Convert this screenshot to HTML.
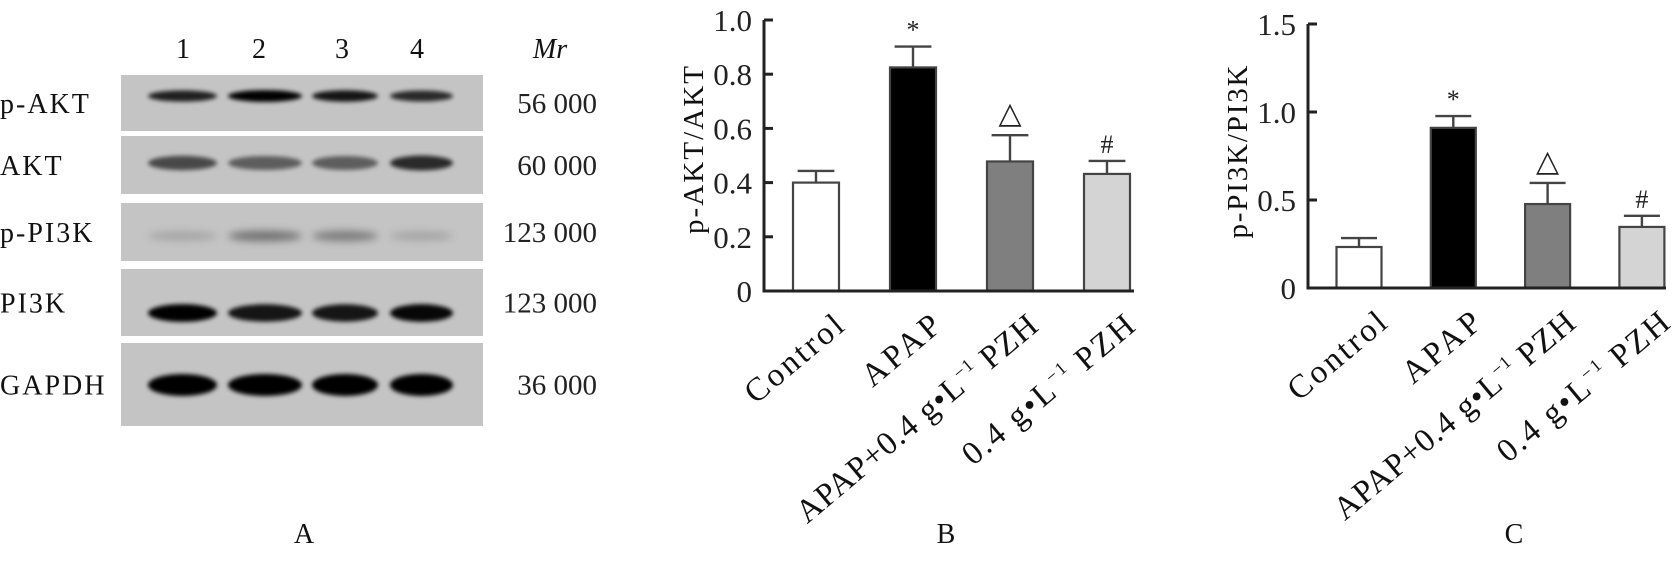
<!DOCTYPE html>
<html><head><meta charset="utf-8">
<style>
html,body{margin:0;padding:0;background:#fff;}
svg{display:block;font-family:"Liberation Serif",serif;}
</style></head>
<body>
<svg id="fig" width="1680" height="573" viewBox="0 0 1680 573" xmlns="http://www.w3.org/2000/svg">
<defs>
<filter id="blur2" x="-20%" y="-100%" width="140%" height="300%"><feGaussianBlur stdDeviation="2.2"/></filter>
<filter id="blur4" x="-20%" y="-100%" width="140%" height="300%"><feGaussianBlur stdDeviation="4"/></filter>
</defs>
<g id="panelA"></g>
<g id="panelB"></g>
<g id="panelC"></g>
</svg>
<script>
// ---- data ----
const categories = ["Control", "APAP", "APAP+0.4 g\u2022L", "0.4 g\u2022L"];
const categorySuffix = ["", "", true, true];
const aktValues = [0.40, 0.825, 0.478, 0.432];
const aktErrors = [0.043, 0.077, 0.097, 0.048];
const aktTicks = [0, 0.2, 0.4, 0.6, 0.8, 1.0];
const aktTickLabels = ["0", "0.2", "0.4", "0.6", "0.8", "1.0"];
const aktMarks = ["", "*", "\u25B3", "#"];
const pi3kValues = [0.233, 0.91, 0.477, 0.347];
const pi3kErrors = [0.051, 0.067, 0.12, 0.063];
const pi3kTicks = [0, 0.5, 1.0, 1.5];
const pi3kTickLabels = ["0", "0.5", "1.0", "1.5"];
const pi3kMarks = ["", "*", "\u25B3", "#"];
const blotRows = ["p-AKT", "AKT", "p-PI3K", "PI3K", "GAPDH"];
const blotMr = ["56 000", "60 000", "123 000", "123 000", "36 000"];
const laneLabels = ["1", "2", "3", "4"];
// band intensities (0..1) per row per lane
const bandIntensity = [
  [0.8, 0.95, 0.85, 0.75],
  [0.6, 0.5, 0.5, 0.75],
  [0.15, 0.4, 0.35, 0.15],
  [0.95, 0.85, 0.85, 0.92],
  [1.0, 1.0, 1.0, 1.0]
];
const fills = ["#ffffff", "#000000", "#7f7f7f", "#d4d4d4"];
const labelLengths = [118, 92, 304, 214];

const NS = "http://www.w3.org/2000/svg";
function mk(tag, attrs, parent, text) {
  const e = document.createElementNS(NS, tag);
  for (const k in attrs) e.setAttribute(k, attrs[k]);
  if (text !== undefined) e.textContent = text;
  parent.appendChild(e);
  return e;
}

// ---- Panel A ----
(function(){
  const g = document.getElementById("panelA");
  const rowBoxes = [[75,131],[136,194],[203,261],[269,336],[343,426]];
  const bandY = [96, 163, 236, 313, 385];
  const bandH = [8, 12, 9, 14, 18];
  const lanes = [[148,217],[228,302],[312,378],[390,453]];
  const laneX = [183, 259, 342, 417];
  laneLabels.forEach((l,i)=>{
    const t = mk("text",{x:laneX[i],y:58,"text-anchor":"middle","font-size":28,fill:"#111"},g,l);
    
    
  });
  const mr = mk("text",{x:550,y:58,"text-anchor":"middle","font-size":28,"font-style":"italic",fill:"#111"},g,"Mr");
  
  
  blotRows.forEach((r,ri)=>{
    const [y0,y1] = rowBoxes[ri];
    const box = mk("rect",{x:121,y:y0,width:362,height:y1-y0,fill:"#c4c4c4"},g);
    
    
    lanes.forEach((ln,li)=>{
      const a = bandIntensity[ri][li];
      const e = mk("ellipse",{cx:(ln[0]+ln[1])/2,cy:bandY[ri],rx:(ln[1]-ln[0])/2,ry:bandH[ri]/2+a*2,fill:"#000","fill-opacity":Math.min(1,a*1.05),filter:ri===2?"url(#blur4)":"url(#blur2)"},g);
      
      
    });
    const lab = mk("text",{x:0,y:(y0+y1)/2+10,"font-size":28,fill:"#111","letter-spacing":"2"},g,r);
    
    
    const m = mk("text",{x:597,y:(y0+y1)/2+10,"text-anchor":"end","font-size":29,fill:"#222"},g,blotMr[ri]);
    
    
  });
  const A = mk("text",{x:304,y:543,"text-anchor":"middle","font-size":28,fill:"#111"},g,"A");
  
  
})();

// ---- Bar chart builder ----
function barChart(g, o, values, errors, ticks, tickLabels, marks, ylabel, panelLetter) {
  const yScale = v => o.y0 - (v - 0) / (o.vmax) * (o.y0 - o.yTop);
  const xCenter = i => o.x1 + i * o.step;
  values.forEach((v,i)=>{
    const cx = xCenter(i);
    const b = mk("rect",{x:cx-o.bw/2,y:yScale(v),width:o.bw,height:o.y0-yScale(v),fill:fills[i],stroke:"#444","stroke-width":2.2},g);
    
    
    const et = yScale(v+errors[i]);
    const el = mk("path",{d:`M${cx},${yScale(v)}V${et}M${cx-o.bw*0.4},${et}H${cx+o.bw*0.4}`,stroke:"#444","stroke-width":2.4,fill:"none"},g);
    
    
    if (marks[i]) {
      const isTri = marks[i] === "\u25B3";
      const mt = mk("text",{x:cx,y:et-(isTri?12:8),"text-anchor":"middle","font-size":isTri?30:26,fill:"#222"},g,marks[i]);
      
      
    }
    const ax = cx + 30, ay = o.y0 + 38;
    const t = mk("text",{x:ax,y:ay,"text-anchor":"end","font-size":33,fill:"#111",textLength:labelLengths[i],lengthAdjust:"spacing",transform:`rotate(-40 ${ax} ${ay})`},g);
    
    
    if (categorySuffix[i]) {
      mk("tspan",{},t,categories[i]);
      mk("tspan",{"font-size":18,dy:-13},t,"\u22121");
      mk("tspan",{dy:13},t," PZH");
    } else {
      t.textContent = categories[i];
    }
  });
  const axis = mk("path",{d:`M${o.ax},${o.yTop}V${o.y0}H${o.xEnd}`,stroke:"#222","stroke-width":3,fill:"none"},g);
  
  
  ticks.forEach((tv,i)=>{
    const y = yScale(tv);
    const tk = mk("line",{x1:o.ax,x2:o.ax+9,y1:y,y2:y,stroke:"#222","stroke-width":3},g);
    
    
    const tl = mk("text",{x:o.ax-12,y:y+11,"text-anchor":"end","font-size":31,fill:"#222"},g,tickLabels[i]);
    
    
  });
  const yl = mk("text",{x:o.ylx,y:o.yly,"text-anchor":"middle","font-size":29,fill:"#111",textLength:o.ylLen,transform:`rotate(-90 ${o.ylx} ${o.yly})`},g,ylabel);
  
  
  const pl = mk("text",{x:o.plx,y:o.ply,"text-anchor":"middle","font-size":28,fill:"#111"},g,panelLetter);
  
  
}

barChart(document.getElementById("panelB"),
  {ax:764,yTop:20,y0:291,vmax:1.0,x1:816,step:97,bw:46,xEnd:1134,ylx:703,yly:150,ylLen:168,plx:946,ply:543},
  aktValues, aktErrors, aktTicks, aktTickLabels, aktMarks, "p-AKT/AKT", "B");

barChart(document.getElementById("panelC"),
  {ax:1308,yTop:24,y0:288,vmax:1.5,x1:1359,step:94.3,bw:45,xEnd:1666,ylx:1247,yly:152,ylLen:173,plx:1514,ply:543},
  pi3kValues, pi3kErrors, pi3kTicks, pi3kTickLabels, pi3kMarks, "p-PI3K/PI3K", "C");
</script>
</body></html>
